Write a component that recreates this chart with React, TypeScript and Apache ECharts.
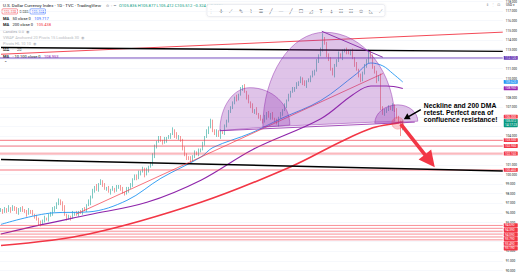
import React, { useEffect, useRef } from "react";
import * as echarts from "echarts";

// ---------------- data ----------------
// daily closes, one candle per slot
const closesA = [96.3, 96.1, 96.4, 96.2, 96.5, 96.3, 96.6, 96.4, 96.0, 96.2, 96.5, 96.3, 96.1, 95.9, 96.2, 96.1, 95.8, 95.6, 95.3, 95.0];
const closesB = [94.9, 95.2, 95.4, 95.3, 95.7, 96.0, 96.2, 96.6, 96.9, 97.3, 97.0, 96.5, 95.8, 95.4, 95.6, 95.5, 95.9, 96.0, 95.8, 96.1];
const closesC = [96.0, 96.4, 96.3, 96.8, 97.1, 97.6, 98.3, 98.7, 98.4, 99.0, 99.3, 98.9, 98.5, 98.6, 98.2, 98.4, 98.5, 98.3, 98.7, 98.8];
const closesD = [98.5, 98.1, 98.0, 98.4, 98.6, 98.9, 99.5, 99.8, 99.6, 100.1, 100.3, 100.6, 100.0, 100.4, 100.8, 101.1, 101.8, 102.9, 103.4, 103.8];
const closesE = [103.5, 103.3, 103.6, 103.8, 103.9, 104.2, 104.6, 104.0, 103.8, 103.9, 103.5, 102.8, 102.0, 101.8, 101.6, 101.4, 101.9, 102.3, 102.1, 102.5];
const closesF = [102.6, 103.2, 103.9, 104.5, 104.9, 105.4, 104.6, 104.2, 104.5, 104.0, 104.4, 104.3, 105.0, 105.6, 106.5, 107.0, 107.4, 108.0, 107.8, 108.3];
const closesG = [108.9, 109.2, 108.6, 108.0, 107.5, 107.2, 106.5, 106.7, 106.3, 106.0, 105.7, 105.5, 105.9, 106.4, 106.0, 106.3, 105.8, 105.6, 105.3, 105.9];
const closesH = [106.3, 106.7, 107.2, 107.7, 108.2, 108.6, 108.8, 109.0, 109.4, 109.6, 110.0, 109.6, 109.3, 109.7, 109.8, 110.2, 110.5, 110.8, 111.8, 112.4];
const closesI = [113.0, 114.2, 113.6, 112.5, 111.9, 111.0, 110.4, 111.3, 111.9, 112.5, 112.2, 112.8, 113.0, 112.7, 112.6, 112.9, 112.1, 111.5, 110.9, 110.3];
const closesJ = [109.8, 110.6, 111.2, 111.9, 112.8, 112.2, 111.2, 110.6, 109.8, 110.2, 107.0, 106.3, 106.5, 106.8, 107.0, 106.8, 107.2, 106.6, 106.0, 105.4, 104.8, 105.512];
const firstOpen = 96.2;
// wick lengths in tenths, one digit per candle
const upperWicks = [
  "21213121231212312122", "21312141221231213121", "21213221312121213121", "12131212231213124212", "21312131421212131212",
  "12121431213121212131", "21213121312131212121", "21212131212121213121", "25121312131212312121", "2131213121313121213121",
].join("");
const lowerWicks = [
  "12121312121213121213", "31212131212312131212", "12121312121212131212", "21213121212131212121", "12131212121313121212",
  "21213121313121212121", "12121312121212131213", "12131212121313121212", "12131213121312121312", "2121312131312121212182",
].join("");

// moving averages [slot, value]
const ma50 = [[0, 94.8], [26, 96.0], [44, 96.1], [63, 97.3], [80, 99.6], [100, 101.8], [106, 102.8], [125, 104.3], [140, 105.8], [160, 107.7], [178, 110.5], [185, 111.6], [191, 111.3], [196, 110.5], [201, 109.62]];
const ma100 = [[0, 93.8], [21, 94.8], [44, 95.8], [73, 97.1], [100, 99.4], [126, 102.6], [160, 105.8], [176, 108.3], [185, 109.2], [193, 109.2], [201, 108.95]];
const ma200 = [[0, 92.6], [44, 93.8], [100, 97.1], [145, 100.8], [170, 103.4], [186, 104.85], [198, 105.34], [201, 105.45]];

// drawings
const topRedTrend = [[0, 112.51], [251, 114.81]];
const topBlackTrend = [[0, 113.21], [251, 112.81]];
const lowBlackTrend = [[0, 101.56], [251, 100.36]];
const risingRedTrend = [[38, 95.9], [191, 110.5]];
const headDownTrend = [[160.5, 114.9], [191, 112.2]];
const neckline = [[109.5, 104.55], [207, 105.44]];
const purpleLevel = 112.12;
const redLevels = [103.55, 102.95, 100.46];
const pinkLevel = 102.16;
const clusterLevels = [94.69, 94.39, 94.09, 93.79, 93.49, 93.19];
const redTagValue = 106.0;
const countdown = "14:17:23";
// domes: [leftSlot, leftVal, topSlot, topVal, rightSlot, rightVal]
const domes = [
  [109.5, 104.55, 124.5, 109.03, 144.5, 105.14],
  [131, 104.94, 162, 114.8, 197, 105.54],
  [187, 105.34, 198.5, 107.24, 208.5, 105.54],
];
const retestPoint = [198.5, 105.34];
const bigArrow = [200, 105.24, 217, 100.76];
const smallArrow = [210, 106.74, 201.5, 105.74];
const noteAnchor = [211.5, 107.55];
const noteLines = ["Neckline and 200 DMA", "retest. Perfect area of", "confluence resistance!"];
const yTickMin = 90;
const yTickMax = 118;

// ---------------- styling constants ----------------
const UP = "#26a69a";
const DOWN = "#ef5350";
const RED = "#f23645";
const BLUE = "#2196f3";
const MAGENTA = "#9c27b0";
const VIOLET = "#673ab7";
const GREEN = "#089981";
const FONT = "Roboto";
const PX_PER_UNIT = 10.04;
const Y116 = 15;
const H = 272;

const closes = [...closesA, ...closesB, ...closesC, ...closesD, ...closesE, ...closesF, ...closesG, ...closesH, ...closesI, ...closesJ];

type Tag = { v: number; color: string; text: string; h: number };
const tags: Tag[] = [
  { v: purpleLevel, color: VIOLET, text: purpleLevel.toFixed(3), h: 4.2 },
  { v: ma50[ma50.length - 1][1], color: BLUE, text: ma50[ma50.length - 1][1].toFixed(3), h: 4.2 },
  { v: ma100[ma100.length - 1][1], color: MAGENTA, text: ma100[ma100.length - 1][1].toFixed(3), h: 4.2 },
  { v: redTagValue, color: RED, text: redTagValue.toFixed(3), h: 4.2 },
  { v: closes[closes.length - 1], color: GREEN, text: closes[closes.length - 1].toFixed(3) + "\n" + countdown, h: 8.6 },
  ...[...redLevels, pinkLevel].map((v) => ({ v, color: RED, text: v.toFixed(3), h: 4.2 })),
  ...clusterLevels.map((v) => ({ v, color: RED, text: v.toFixed(3), h: 4.6 })),
];

// stack tags so they do not overlap (pixel layout)
const layoutTags = (toY: (v: number) => number) => {
  const items = tags.map((t, k) => ({ k, y: toY(t.v), t }));
  items.sort((a, b) => a.y - b.y);
  let prevBottom = -Infinity;
  const tops: number[] = [];
  items.forEach((it) => {
    let top = it.y - it.t.h / 2;
    if (top < prevBottom) top = prevBottom;
    tops[it.k] = top;
    prevBottom = top + it.t.h;
  });
  return tops;
};
const valueToY = (v: number) => Y116 + (116 - v) * PX_PER_UNIT;
const staticTops = layoutTags(valueToY);

export default function App() {
  const ref = useRef<HTMLDivElement>(null);
  useEffect(() => {
    document.body.style.margin = "0";
    if (!ref.current) return;
    const chart = echarts.init(ref.current, undefined, { renderer: "svg" });

    const candles = closes.map((c, i) => {
      const o = i === 0 ? firstOpen : closes[i - 1];
      const hi = Math.max(o, c) + Number(upperWicks.charAt(i) || 0) / 10;
      const lo = Math.min(o, c) - Number(lowerWicks.charAt(i) || 0) / 10;
      return [i, o, c, lo, hi];
    });

    const gridTop = Y116 - (yTickMax - 116) * PX_PER_UNIT;
    const gridBottom = H - (Y116 + (116 - yTickMin) * PX_PER_UNIT);

    const lineSeries = (data: number[][], color: string, width: number, opts: any = {}) => ({
      type: "line",
      data,
      symbol: "none",
      silent: true,
      z: 4,
      lineStyle: { color, width, ...(opts.lineStyle || {}) },
      smooth: opts.smooth || false,
    });

    const hline = (v: number, color: string, width: number, opacity = 1) =>
      lineSeries([[-0.5, v], [251, v]], color, width, { lineStyle: { opacity } });

    const renderTag = (params: any, api: any) => {
      const cs = params.coordSys;
      const tops = layoutTags((v) => api.coord([0, v])[1]);
      const t = tags[params.dataIndex];
      const top = tops[params.dataIndex];
      const x0 = cs.x + cs.width + 1;
      return {
        type: "group",
        children: [
          { type: "rect", shape: { x: x0, y: top, width: 14, height: t.h - 0.3, r: 0.6 }, style: { fill: t.color } },
          {
            type: "text",
            style: {
              x: x0 + 1.3,
              y: top + (t.h - 0.3) / 2,
              text: t.text,
              fill: "#ffffff",
              fontSize: 3.1,
              fontFamily: FONT,
              lineHeight: 3.9,
              verticalAlign: "middle",
              align: "left",
            },
          },
        ],
      };
    };

    const tickLabel = (v: number) => {
      const y = valueToY(v);
      const covered = tags.some((t, k) => y > staticTops[k] - 0.8 && y < staticTops[k] + t.h + 0.8);
      return covered ? "" : v.toFixed(3);
    };

    const arrowPoints = (p1: number[], p2: number[], sw: number, hl: number, hw: number) => {
      const dx = p2[0] - p1[0];
      const dy = p2[1] - p1[1];
      const len = Math.hypot(dx, dy) || 1;
      const ux = dx / len, uy = dy / len;
      const nx = -uy, ny = ux;
      const bx = p2[0] - ux * hl, by = p2[1] - uy * hl;
      return [
        [p1[0] + nx * sw, p1[1] + ny * sw],
        [bx + nx * sw, by + ny * sw],
        [bx + nx * hw, by + ny * hw],
        [p2[0], p2[1]],
        [bx - nx * hw, by - ny * hw],
        [bx - nx * sw, by - ny * sw],
        [p1[0] - nx * sw, p1[1] - ny * sw],
      ];
    };

    const toolbarIcons = ["⋮", "✛", "⟋", "✎", "⌇", "☰", "╱", "—", "╱", "☐", "◿", "T", "⍋", "☷", "☷", "⊙", "◺", "⟋"];

    const hdr = (x: number, y: number, text: string, fill: string, size = 4.1, extra: any = {}) => ({
      type: "text",
      x,
      y,
      silent: true,
      style: { text, fill, fontSize: size, fontFamily: FONT, verticalAlign: "middle", ...extra },
    });

    const rich = {
      b: { fontWeight: "bold", fill: "#131722", fontSize: 4, fontFamily: FONT },
      blue: { fill: "#2962ff", fontSize: 4, fontFamily: FONT },
      red: { fill: RED, fontSize: 4, fontFamily: FONT },
      pur: { fill: MAGENTA, fontSize: 4, fontFamily: FONT },
      g: { fill: "#131722", fontSize: 4, fontFamily: FONT },
    };

    chart.setOption({
      animation: false,
      backgroundColor: "#ffffff",
      textStyle: { fontFamily: FONT },
      grid: { left: 0, right: 17, top: gridTop, bottom: gridBottom },
      xAxis: { type: "value", min: -0.5, max: 251, show: false },
      yAxis: {
        type: "value",
        position: "right",
        min: yTickMin,
        max: yTickMax,
        interval: 1,
        axisLine: { show: false },
        axisTick: { show: false },
        axisLabel: { fontSize: 3.1, color: "#131722", margin: 3, formatter: tickLabel },
        splitLine: { lineStyle: { color: "#f0f3fa", width: 0.6 } },
      },
      series: [
        {
          type: "candlestick",
          data: candles,
          encode: { x: 0, y: [1, 2, 3, 4] },
          barWidth: 1.3,
          z: 3,
          itemStyle: { color: UP, color0: DOWN, borderColor: UP, borderColor0: DOWN, borderWidth: 0.6 },
        },
        lineSeries(ma200, RED, 1.6, { smooth: 0.35 }),
        lineSeries(ma100, "#8e24aa", 1.1, { smooth: 0.35 }),
        lineSeries(ma50, BLUE, 0.9, { smooth: 0.35 }),
        hline(purpleLevel, VIOLET, 0.9),
        ...redLevels.map((v) => hline(v, RED, 0.8, 0.85)),
        hline(pinkLevel, RED, 2.2, 0.35),
        ...clusterLevels.map((v) => hline(v, RED, 0.7, 0.8)),
        lineSeries(topRedTrend, RED, 0.9),
        lineSeries(topBlackTrend, "#000000", 1.4),
        lineSeries(lowBlackTrend, "#000000", 1.4),
        lineSeries(risingRedTrend, RED, 0.7),
        lineSeries(headDownTrend, "#7b1fa2", 0.9),
        {
          type: "custom",
          z: 5,
          silent: true,
          data: domes,
          encode: { x: [0, 2, 4], y: [1, 3, 5] },
          renderItem: (params: any, api: any) => {
            const d = domes[params.dataIndex];
            const L = api.coord([d[0], d[1]]);
            const T = api.coord([d[2], d[3]]);
            const R = api.coord([d[4], d[5]]);
            const k = 0.5523;
            const p =
              `M${L[0]},${L[1]} C${L[0]},${L[1] - (L[1] - T[1]) * k} ${T[0] - (T[0] - L[0]) * k},${T[1]} ${T[0]},${T[1]} ` +
              `C${T[0] + (R[0] - T[0]) * k},${T[1]} ${R[0]},${R[1] - (R[1] - T[1]) * k} ${R[0]},${R[1]} Z`;
            return {
              type: "path",
              shape: { pathData: p },
              style: { fill: "rgba(149,56,178,0.30)", stroke: "rgba(142,36,170,0.75)", lineWidth: 0.6 },
            };
          },
        },
        lineSeries(neckline, "#8e24aa", 0.8),
        {
          type: "scatter",
          z: 6,
          silent: true,
          data: [retestPoint],
          symbolSize: 12,
          itemStyle: { color: "rgba(242,54,69,0.32)", borderColor: "rgba(242,54,69,0.55)", borderWidth: 0.6 },
        },
        {
          type: "custom",
          z: 7,
          silent: true,
          data: [bigArrow, smallArrow],
          encode: { x: [0, 2], y: [1, 3] },
          renderItem: (params: any, api: any) => {
            const a = params.dataIndex === 0 ? bigArrow : smallArrow;
            const p1 = api.coord([a[0], a[1]]);
            const p2 = api.coord([a[2], a[3]]);
            const big = params.dataIndex === 0;
            return {
              type: "polygon",
              shape: { points: big ? arrowPoints(p1, p2, 1.8, 16, 8) : arrowPoints(p1, p2, 0.8, 6, 3.4) },
              style: { fill: big ? RED : "#000000" },
            };
          },
        },
        {
          type: "custom",
          z: 8,
          silent: true,
          data: [noteAnchor],
          renderItem: (params: any, api: any) => {
            const p = api.coord(noteAnchor);
            return {
              type: "text",
              style: {
                x: p[0],
                y: p[1],
                text: noteLines.join("\n"),
                fill: "#000000",
                fontSize: 6.8,
                fontWeight: "bold",
                fontFamily: "Liberation Sans",
                lineHeight: 7.2,
                align: "left",
                verticalAlign: "top",
              },
            };
          },
        },
        {
          type: "custom",
          z: 9,
          silent: true,
          clip: false,
          data: tags.map((t) => [0, t.v]),
          renderItem: renderTag,
        },
      ],
      graphic: [
        hdr(3, 5, "U.S. Dollar Currency Index · 1D · TVC · TradingView", "#131722", 4.4),
        hdr(106, 5, "⊙ ◦ ━", "#787b86", 3.8, { fontFamily: "DejaVu Sans" }),
        hdr(119, 5, "O105.836 H105.877 L105.412 C105.512 −0.324 (−0.31%)", GREEN, 4.1),
        { type: "rect", silent: true, shape: { x: 2, y: 8.8, width: 15.5, height: 5.2, r: 1 }, style: { fill: "#fff", stroke: RED, lineWidth: 0.5 } },
        hdr(3.6, 11.5, "105.338", RED, 3.5),
        hdr(19.6, 11.5, "0.085", "#131722", 3.5),
        { type: "rect", silent: true, shape: { x: 30, y: 8.8, width: 15.5, height: 5.2, r: 1 }, style: { fill: "#fff", stroke: "#2962ff", lineWidth: 0.5 } },
        hdr(31.6, 11.5, "105.524", "#2962ff", 3.5),
        { type: "text", x: 3, y: 18.3, silent: true, style: { text: "{b|MA} {g|50 close 0} {blue|109.717}", rich, verticalAlign: "middle" } },
        { type: "text", x: 3, y: 24.8, silent: true, style: { text: "{b|MA} {g|200 close 0} {red|105.438}", rich, verticalAlign: "middle" } },
        hdr(3, 31.4, "Candles 0.0  ◉", "#a3a6af", 4),
        hdr(3, 37.4, "VWAP Anchored 20 Pivots 15 Lookback 30  ◉", "#b8bbc2", 4),
        hdr(3, 43, "Pivots HL 10 10  ◉", "#b8bbc2", 4),
        { type: "text", x: 3, y: 49.5, silent: true, style: { text: "{b|MA} {red|·} {g|20}", rich, verticalAlign: "middle" } },
        { type: "text", x: 3, y: 56.6, silent: true, style: { text: "{b|MA} {g|· 10 100 close 0} {pur|108.953}", rich, verticalAlign: "middle" } },
        hdr(4, 62, "⌃", "#131722", 4, { fontFamily: "DejaVu Sans" }),
        {
          type: "rect",
          silent: true,
          shape: { x: 207, y: 4.5, width: 178, height: 12, r: 2 },
          style: { fill: "#ffffff", stroke: "#e0e3eb", lineWidth: 0.6, shadowBlur: 2, shadowColor: "rgba(0,0,0,0.08)" },
        },
        ...toolbarIcons.map((g, k) =>
          hdr(211 + k * 10, 10.5, g, k === 0 ? "#b2b5be" : "#50535e", 5, { fontFamily: "DejaVu Sans", align: "center" })
        ),
        hdr(486, 4.5, "⇕  ⋮  ⊡", "#787b86", 3.6, { fontFamily: "DejaVu Sans" }),
        hdr(506, 4.5, "USD ▾", "#131722", 3.2),
      ],
    });
    return () => chart.dispose();
  }, []);
  return <div ref={ref} style={{ width: 520, height: 272 }} />;
}
